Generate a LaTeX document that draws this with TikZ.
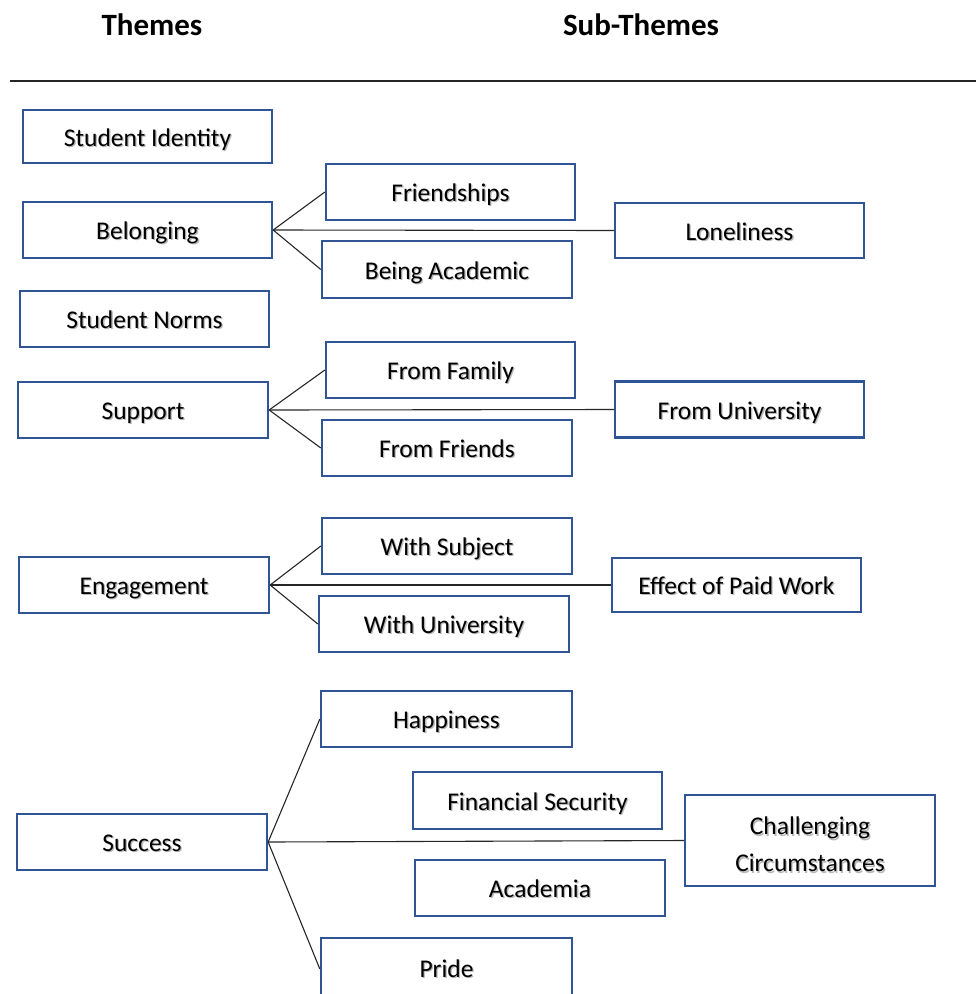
\documentclass[tikz,border=0pt]{standalone}
\usepackage{fontspec}
\setmainfont{Carlito}
\usepackage{xcolor}
\definecolor{boxblue}{HTML}{2F5597}
% soft grey shadow under box labels
\newcommand\sh[1]{\leavevmode\rlap{\kern1.3pt\raisebox{-1.3pt}{\textcolor{black!28}{#1}}}#1}
\begin{document}
\begin{tikzpicture}[x=1pt,y=-1pt,
  boxbase/.style={draw=boxblue,line width=2.3pt,minimum width=249pt,minimum height=56pt,
    inner sep=0pt,font=\fontsize{25.5}{37}\selectfont,align=center},
  box/.style={boxbase,text height=19pt,text depth=0pt},
  head/.style={font=\fontsize{31}{34}\selectfont\bfseries},
  link/.style={draw=black!85,line width=1.1pt}]
\useasboundingbox (0,0) rectangle (976,994);

% column headings and rule
\node[head] (th) at (152,25) {Themes};
\node[head] (sth) at (641,25) {Sub-Themes};
\coordinate (rl) at (10,81);
\coordinate (rr) at (976,81);
\draw[line width=1.4pt,black!85] (rl) -- (rr);

% themes
\node[box,minimum height=53pt] (si) at (147.5,136.5) {\sh{Student Identity}};
\node[box] (bel) at (147.5,230) {\sh{Belonging}};
\node[box] (sn) at (144.5,319) {\sh{Student Norms}};
\node[box,minimum width=250pt] (sup) at (143,410) {\sh{Support}};
\node[box,minimum width=250pt] (eng) at (144,585) {\sh{Engagement}};
\node[box,minimum width=250pt] (suc) at (142,842) {\sh{Success}};

% sub-themes
\node[box] (fri) at (450.5,192) {\sh{Friendships}};
\node[box,minimum width=250pt,minimum height=57pt] (bac) at (447,269.5) {\sh{Being Academic}};
\node[box,minimum height=55pt] (lon) at (739.5,230.5) {\sh{Loneliness}};

\node[box] (ffam) at (450.5,370) {\sh{From Family}};
\node[box,minimum width=250pt] (ffri) at (447,448) {\sh{From Friends}};
\node[box] (funi) at (739.5,409.5) {\sh{From University}};

\node[box,minimum width=250pt] (wsub) at (447,546) {\sh{With Subject}};
\node[box,minimum width=250pt] (wuni) at (444,624) {\sh{With University}};
\node[box,minimum height=54pt] (epw) at (736.5,585) {\sh{Effect of Paid Work}};

\node[box,minimum width=251pt] (hap) at (446.5,719) {\sh{Happiness}};
\node[box,minimum height=57pt] (fin) at (537.5,800.5) {\sh{Financial Security}};
\node[box,minimum width=250pt] (aca) at (540,888) {\sh{Academia}};
\node[box,minimum width=251pt,minimum height=60pt] (pri) at (446.5,968) {\sh{Pride}};
\node[boxbase,minimum width=250pt,minimum height=91pt] (chal) at (810,840.5)
  {\rule{0pt}{27pt}\sh{Challenging}\\\sh{Circumstances}};

% connectors
\draw[link] (bel.east) -- (fri.west);
\draw[link] (bel.east) -- (bac.west);
\draw[link] (bel.east) -- (lon.west);

\draw[link] (sup.east) -- (ffam.west);
\draw[link] (sup.east) -- (ffri.west);
\draw[link] (sup.east) -- (funi.west);

\draw[link] (eng.east) -- (wsub.west);
\draw[link] (eng.east) -- (wuni.west);
\draw[link] (eng.east) -- (epw.west);

\draw[link] (suc.east) -- (hap.west);
\draw[link] (suc.east) -- ([yshift=-1pt]pri.west);
\draw[link] (suc.east) -- (chal.west);
\end{tikzpicture}
\end{document}
